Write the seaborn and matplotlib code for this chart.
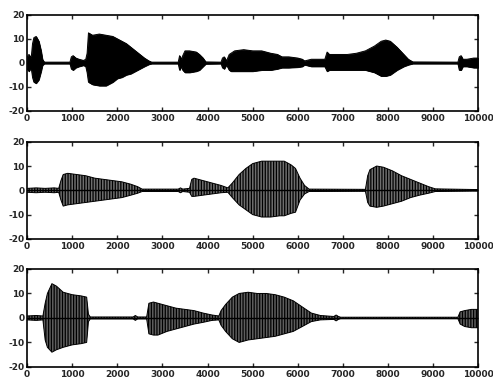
import numpy as np
import pandas as pd
import matplotlib
matplotlib.use("Agg")
import matplotlib.pyplot as plt
import seaborn as sns

# Envelope readings (sample index, upper, lower) for each panel
p1_x = [0, 40, 90, 120, 150, 200, 260, 310, 340, 380, 950, 980, 1020, 1080, 1150, 1250, 1300, 1330, 1360,
        1450, 1600, 1750, 1900, 2000, 2100, 2200, 2300, 2400, 2500, 2600, 2700, 2760, 3350, 3380, 3420, 3450,
        3500, 3600, 3750, 3820, 3900, 3960, 4300, 4330, 4370, 4420, 4480, 4520, 4600, 4800, 5000, 5200, 5400,
        5550, 5650, 5800, 6000, 6100, 6150, 6300, 6500, 6600, 6650, 6700, 6900, 7100, 7300, 7500, 7700, 7850,
        7950, 8050, 8200, 8350, 8450, 8550, 9550, 9580, 9620, 9660, 9750, 9900, 10000]
p1_up = [2.5, 3.5, 2.0, 8.0, 10.5, 11.0, 9.0, 5.0, 1.5, 0.3, 0.3, 2.5, 3.0, 2.0, 1.5, 1.0, 1.5, 4.0, 12.5,
         11.5, 12.0, 11.5, 11.0, 10.0, 9.0, 8.0, 6.5, 5.0, 3.5, 2.0, 0.8, 0.3, 0.3, 3.0, 1.5, 3.0,
         5.0, 5.0, 4.5, 3.5, 2.0, 0.4, 0.3, 2.0, 2.5, 0.8, 3.5, 4.0, 5.0, 5.5, 5.0, 5.0, 4.0,
         3.5, 2.5, 2.5, 2.0, 1.5, 0.8, 1.5, 1.5, 1.5, 4.5, 3.5, 3.5, 3.5, 4.0, 5.0, 7.0, 9.0,
         9.5, 9.0, 6.5, 3.5, 1.5, 0.4, 0.3, 2.5, 3.0, 1.5, 1.5, 2.0, 2.0]
p1_lo = [-2.5, -3.5, -2.0, -6.0, -8.0, -8.5, -7.0, -3.5, -1.0, -0.3, -0.3, -2.5, -3.0, -2.0, -1.5, -1.0, -1.5, -4.0, -8.0,
         -9.0, -9.5, -9.5, -8.0, -6.5, -6.0, -5.0, -4.5, -3.5, -2.5, -1.5, -0.6, -0.3, -0.3, -3.0, -1.5, -3.0,
         -4.0, -4.0, -3.5, -3.0, -1.5, -0.4, -0.3, -2.0, -2.5, -0.8, -3.0, -3.5, -3.5, -3.5, -3.5, -3.0, -3.0,
         -2.5, -2.0, -2.0, -1.8, -1.5, -0.8, -1.5, -1.5, -1.5, -3.5, -3.0, -3.0, -3.0, -3.0, -3.0, -4.0, -5.5,
         -5.5, -5.0, -3.0, -1.5, -0.8, -0.3, -0.3, -3.0, -3.0, -1.5, -1.5, -2.0, -2.0]

p2_x = [0, 200, 400, 600, 700, 750, 800, 900, 1100, 1300, 1500, 1700, 1900, 2100, 2300, 2450, 2550, 3350,
        3400, 3450, 3600, 3650, 3700, 3900, 4100, 4300, 4450, 4550, 4700, 4850, 5000, 5200, 5400, 5600,
        5700, 5850, 5950, 6050, 6150, 6250, 7500, 7550, 7600, 7750, 7900, 8100, 8300, 8500, 8700, 8900,
        9050, 10000]
p2_up = [0.8, 1.0, 0.8, 1.0, 0.8, 4.0, 6.5, 7.0, 6.5, 6.0, 5.0, 4.5, 4.0, 3.5, 2.5, 1.5, 0.5, 0.5,
         1.0, 0.5, 0.8, 4.5, 5.0, 4.0, 3.0, 2.0, 1.0, 3.0, 6.5, 9.0, 11.0, 12.0, 12.0, 12.0,
         12.0, 10.5, 9.0, 5.0, 2.0, 0.5, 0.4, 6.0, 8.5, 10.0, 9.5, 8.0, 6.0, 4.5, 3.0, 1.5,
         0.6, 0.3]
p2_lo = [-0.8, -1.0, -0.8, -1.0, -0.8, -4.0, -6.5, -6.0, -5.5, -5.0, -4.5, -4.0, -3.5, -3.0, -2.0, -1.2, -0.5, -0.5,
         -1.0, -0.5, -0.8, -2.5, -2.5, -2.0, -1.5, -1.0, -0.8, -3.0, -6.0, -8.0, -10.0, -11.0, -11.0, -10.5,
         -10.5, -9.5, -9.0, -4.0, -1.5, -0.5, -0.4, -5.0, -6.5, -7.0, -6.5, -5.5, -4.5, -3.0, -2.0, -1.2,
         -0.5, -0.3]

p3_x = [0, 200, 350, 400, 450, 550, 650, 800, 1000, 1200, 1320, 1360, 1400, 2350, 2400, 2450, 2650, 2700,
        2800, 2900, 3100, 3300, 3500, 3700, 3900, 4100, 4250, 4300, 4400, 4550, 4700, 4900, 5100, 5300,
        5500, 5700, 5900, 6100, 6300, 6500, 6800, 6850, 6900, 6950, 9550, 9600, 9700, 9850, 10000]
p3_up = [0.8, 1.0, 0.8, 6.0, 10.0, 14.0, 13.0, 10.5, 9.5, 9.0, 8.5, 1.5, 0.4, 0.4, 1.0, 0.4, 0.4, 6.0,
         6.5, 6.0, 5.0, 4.0, 3.5, 3.0, 2.0, 1.2, 0.8, 3.0, 5.5, 8.5, 10.0, 10.5, 10.0, 10.0,
         9.5, 8.5, 7.0, 4.5, 2.0, 1.0, 0.6, 1.2, 0.6, 0.3, 0.3, 2.5, 3.0, 3.5, 3.5]
p3_lo = [-0.8, -1.0, -0.8, -9.0, -12.0, -14.0, -13.0, -12.0, -11.0, -10.5, -10.0, -1.5, -0.4, -0.4, -1.0, -0.4, -0.4, -6.5,
         -7.0, -7.0, -5.5, -4.5, -3.5, -2.5, -1.8, -1.0, -0.8, -3.0, -5.5, -8.5, -10.0, -9.0, -8.5, -8.0,
         -7.5, -6.5, -5.5, -3.5, -1.5, -0.8, -0.6, -1.2, -0.6, -0.3, -0.3, -2.5, -3.5, -4.0, -4.0]

x_ticks = [0, 1000, 2000, 3000, 4000, 5000, 6000, 7000, 8000, 9000, 10000]
y_ticks = [-20, -10, 0, 10, 20]

sns.set_style("ticks")
plt.rcParams['font.family'] = ['DejaVu Sans']

fig = plt.figure(figsize=(4.93, 3.81), dpi=100)
rects = [[0.055, 0.709, 0.915, 0.252],
         [0.055, 0.373, 0.915, 0.255],
         [0.055, 0.037, 0.915, 0.257]]
panels = [(p1_x, p1_up, p1_lo, '#000000', None),
          (p2_x, p2_up, p2_lo, '#6e6e6e', '||||||'),
          (p3_x, p3_up, p3_lo, '#5e5e5e', '||||||')]

plt.rcParams['hatch.linewidth'] = 0.9
for rect, (xs, up, lo, fc, hatch) in zip(rects, panels):
    ax = fig.add_axes(rect)
    df = pd.DataFrame({'x': xs + xs, 'y': up + lo,
                       'side': ['up'] * len(xs) + ['lo'] * len(xs)})
    ax.fill_between(xs, lo, up, facecolor=fc, edgecolor='black' if hatch else fc,
                    hatch=hatch, linewidth=0 if hatch else 0.6)
    sns.lineplot(data=df, x='x', y='y', units='side', estimator=None, color='black',
                 linewidth=0.7, ax=ax, legend=False)
    sns.lineplot(x=[x_ticks[0], x_ticks[-1]], y=[0, 0], color='black', linewidth=1.0, ax=ax)
    ax.set_xlim(0, 10000)
    ax.set_ylim(-20, 20)
    ax.set_xticks(x_ticks)
    ax.set_yticks(y_ticks)
    ax.set_xticklabels([str(t) for t in x_ticks], fontsize=6.5, fontweight='bold')
    ax.set_yticklabels([str(t) for t in y_ticks], fontsize=6.5, fontweight='bold')
    ax.set_xlabel('')
    ax.set_ylabel('')
    ax.tick_params(direction='in', top=True, right=True, length=3, width=1.0, pad=2)
    for s in ax.spines.values():
        s.set_visible(True)
        s.set_linewidth(1.2)
        s.set_color('black')

fig.savefig('out.png', dpi=100, facecolor='white')
